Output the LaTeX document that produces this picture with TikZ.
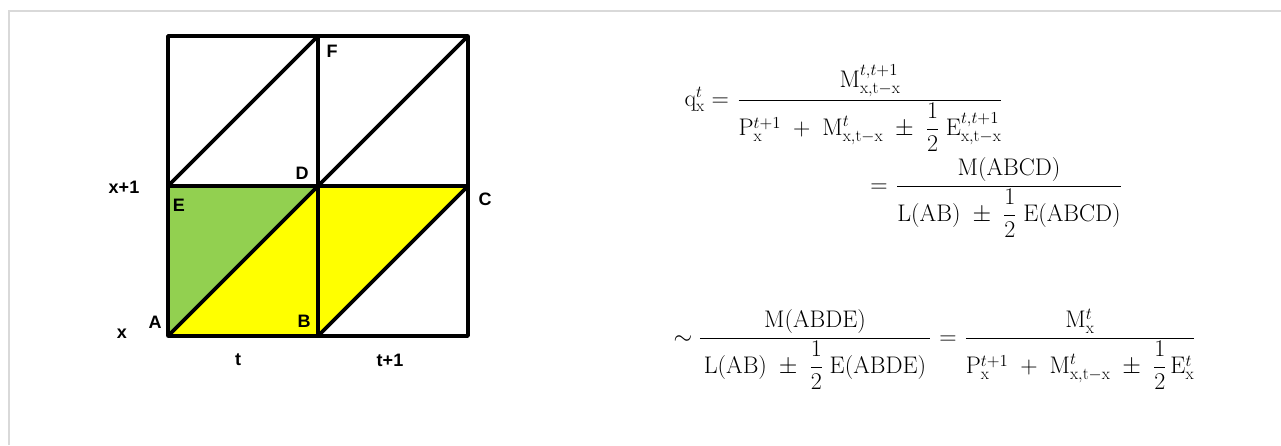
\RequirePackage{fix-cm}
\documentclass[tikz,border=0pt]{standalone}
\usepackage{fontspec}
\usepackage{amsmath}
\newfontfamily\labfont{Liberation Sans}
\definecolor{cellgreen}{HTML}{92D050}
\definecolor{cellyellow}{HTML}{FFFF00}
\definecolor{framegray}{HTML}{D9D9D9}
\tikzset{
  gridline/.style={line width=3.6pt, line cap=round, line join=round},
  lbl/.style={font=\labfont\bfseries\fontsize{18}{20}\selectfont, inner sep=0pt},
  eqn/.style={font=\fontsize{24}{28}\selectfont, inner sep=0pt, anchor=base},
}
\newcommand{\rmx}{\mathrm{x}}
\newcommand{\rmxtx}{\mathrm{x,t-x}}
\begin{document}
\begin{tikzpicture}[x=1pt,y=-1pt]
\useasboundingbox (0,0) rectangle (1281,445);
\fill[white] (0,0) rectangle (1281,445);
\draw[framegray, line width=2pt] (9,445) -- (9,11) -- (1281,11);
% grid points
\coordinate (P00) at (168,336);
\coordinate (P10) at (318,336);
\coordinate (P20) at (468,336);
\coordinate (P01) at (168,186);
\coordinate (P11) at (318,186);
\coordinate (P21) at (468,186);
\coordinate (P02) at (168,36);
\coordinate (P12) at (318,36);
\coordinate (P22) at (468,36);
% fills
\fill[cellgreen] (P00) -- (P01) -- (P11) -- cycle;
\fill[cellyellow] (P00) -- (P10) -- (P21) -- (P11) -- cycle;
% grid lines
\draw[gridline] (P00) -- (P20) -- (P22) -- (P02) -- cycle;
\draw[gridline] (P01) -- (P21);
\draw[gridline] (P10) -- (P12);
\draw[gridline] (P01) -- (P12);
\draw[gridline] (P11) -- (P22);
\draw[gridline] (P00) -- (P11);
\draw[gridline] (P10) -- (P21);
% labels
\node[lbl] (lx1) at (124,187) {x+1};
\node[lbl] (lx) at (122,334) {x};
\node[lbl] (lE) at (179,205) {E};
\node[lbl] (lD) at (302,173) {D};
\node[lbl] (lF) at (332,51) {F};
\node[lbl] (lC) at (485,199) {C};
\node[lbl] (lA) at (155,322) {A};
\node[lbl] (lB) at (304,321) {B};
\node[lbl] (lt) at (238,360) {t};
\node[lbl] (lt1) at (390,360) {t+1};
% equations (baseline = bar + axis height)
\node[eqn, anchor=base east] (q1) at (729,106) {$\mathrm{q}^t_{\rmx} =$};
\node[eqn] (f1) at (870,106) {$\dfrac{\mathrm{M}^{t,t+1}_{\rmxtx}}{\mathrm{P}^{t+1}_{\rmx} \;+\; \mathrm{M}^{t}_{\rmxtx} \;\pm\; \dfrac{1}{2}\;\mathrm{E}^{t,t+1}_{\rmxtx}}$};
\node[eqn] (e2) at (879,192) {$=$};
\node[eqn] (f2) at (1009,192) {$\dfrac{\mathrm{M(ABCD)}}{\mathrm{L(AB)} \;\pm\; \dfrac{1}{2}\;\mathrm{E(ABCD)}}$};
\node[eqn] (s3) at (683,344) {$\sim$};
\node[eqn] (f3) at (815,344) {$\dfrac{\mathrm{M(ABDE)}}{\hspace{4pt}\mathrm{L(AB)} \;\pm\; \dfrac{1}{2}\;\mathrm{E(ABDE)}\hspace{4pt}}$};
\node[eqn] (e3) at (948,344) {$=$};
\node[eqn] (f4) at (1080,344) {$\dfrac{\mathrm{M}^{t}_{\rmx}}{\mathrm{P}^{t+1}_{\rmx} \;+\; \mathrm{M}^{t}_{\rmxtx} \;\pm\; \dfrac{1}{2}\,\mathrm{E}^{t}_{\rmx}}$};
\end{tikzpicture}
\end{document}
